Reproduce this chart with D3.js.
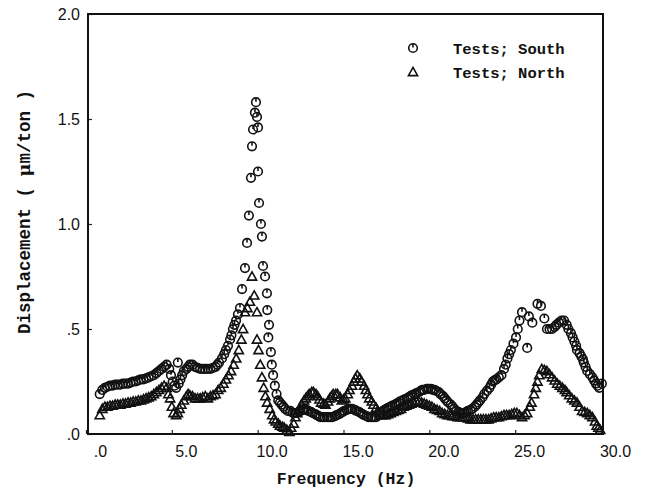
<!DOCTYPE html>
<html>
<head>
<meta charset="utf-8">
<script src="https://cdn.jsdelivr.net/npm/d3@7"></script>
<style>
  body { margin: 0; background: #fff; }
  .tick text { font-family: "Liberation Sans", Arial, sans-serif; font-size: 16px; fill: #111; }
  .title { font-family: "Liberation Mono", "Courier New", monospace; font-weight: bold; fill: #111; }
</style>
</head>
<body>
<div id="chart"></div>
<script>
// tick labels as printed on the figure
const xTicks = [0, 5, 10, 15, 20, 25, 30];
const xTickLabels = [".0", "5.0", "10.0", "15.0", "20.0", "25.0", "30.0"];
const yTicks = [0, 0.5, 1.0, 1.5, 2.0];
const yTickLabels = [".0", ".5", "1.0", "1.5", "2.0"];

// Tests; South (circles): [frequency Hz, displacement um/ton]
const southPoints = [
  [0.8,.19],[0.95,.21],[1.1,.22],[1.25,.225],[1.4,.23],[1.55,.23],[1.7,.235],[1.85,.235],[2.0,.235],[2.15,.24],[2.3,.24],[2.45,.24],
  [2.6,.245],[2.75,.25],[2.9,.25],[3.05,.255],[3.2,.26],[3.35,.26],[3.5,.265],[3.65,.27],[3.8,.275],[3.95,.28],[4.1,.29],[4.25,.30],
  [4.4,.31],[4.55,.32],[4.7,.33],[4.85,.31],[4.95,.28],[5.05,.25],[5.15,.23],[5.25,.22],[5.35,.34],[5.4,.24],[5.5,.26],[5.6,.28],
  [5.7,.30],[5.85,.31],[5.95,.32],[6.05,.33],[6.2,.33],[6.35,.32],[6.5,.315],[6.65,.31],[6.8,.31],[6.95,.31],[7.1,.31],[7.25,.31],
  [7.4,.315],[7.55,.32],[7.65,.33],[7.75,.34],[7.92,.36],[8.05,.38],[8.15,.40],[8.27,.42],[8.39,.45],[8.47,.47],[8.56,.50],[8.65,.52],
  [8.74,.54],[8.85,.57],[8.97,.60],[9.09,.69],
  [9.26,.79],[9.38,.91],[9.49,1.04],[9.61,1.22],[9.67,1.37],[9.73,1.45],[9.84,1.53],[9.9,1.58],[9.96,1.51],[10.02,1.46],[10.02,1.25],
  [10.08,1.10],[10.19,1.00],[10.25,.94],[10.31,.80],[10.43,.75],[10.54,.67],[10.56,.59],[10.66,.52],[10.62,.46],[10.77,.39],[10.82,.33],
  [10.9,.28],[11.0,.23],[11.1,.19],[11.2,.16],[11.3,.15],[11.4,.14],[11.5,.13],[11.6,.12],[11.75,.11],[11.9,.11],[12.05,.10],[12.15,.10],
  [12.25,.10],[12.4,.105],[12.5,.11],[12.65,.115],[12.75,.12],[12.85,.115],[12.95,.11],[13.1,.105],[13.2,.10],[13.35,.095],[13.45,.09],
  [13.55,.085],[13.65,.08],[13.8,.08],[13.9,.08],[14.05,.08],[14.15,.08],[14.25,.08],[14.35,.08],[14.5,.085],[14.6,.09],[14.75,.095],
  [14.85,.10],[14.95,.105],[15.05,.11],[15.2,.115],[15.3,.12],[15.4,.12],[15.5,.12],[15.65,.115],[15.75,.11],[15.9,.105],[16.0,.10],
  [16.1,.095],[16.2,.09],[16.35,.085],[16.45,.08],[16.6,.08],[16.7,.08],[16.8,.08],[16.9,.08],
  [17.05,.09],[17.15,.10],[17.3,.11],[17.4,.115],[17.5,.12],[17.6,.125],[17.75,.13],[17.85,.135],[18.0,.14],[18.1,.145],[18.2,.15],
  [18.3,.155],[18.45,.16],[18.55,.165],[18.7,.17],[18.8,.175],[18.9,.18],[19.0,.185],[19.15,.19],[19.25,.195],[19.4,.20],[19.5,.205],
  [19.6,.21],[19.7,.21],[19.85,.215],[19.95,.215],[20.1,.215],[20.2,.21],[20.3,.21],[20.4,.205],[20.55,.20],[20.65,.19],[20.8,.18],
  [20.9,.17],[21.0,.16],[21.1,.15],[21.25,.14],[21.35,.13],[21.45,.12],[21.55,.11],[21.7,.105],[21.8,.10],[21.95,.10],[22.05,.10],
  [22.15,.105],[22.25,.11],[22.4,.115],[22.5,.12],[22.65,.13],[22.75,.14],[22.85,.15],[22.95,.16],[23.1,.175],[23.2,.19],[23.35,.205],
  [23.5,.22],[23.6,.235],[23.7,.25],[23.8,.255],[23.9,.26],[24.05,.27],[24.2,.28],[24.35,.31],[24.45,.33],[24.55,.36],[24.65,.38],
  [24.75,.40],[24.9,.43],[25.05,.46],[25.15,.50],[25.25,.54],[25.4,.58],[25.7,.41],[25.8,.56],[26.0,.53],[26.3,.62],[26.5,.61],
  [26.7,.55],[26.85,.50],[27.0,.50],[27.15,.50],[27.3,.51],[27.4,.52],[27.55,.53],[27.7,.54],[27.85,.54],[28.0,.52],[28.1,.50],
  [28.25,.48],[28.35,.46],[28.45,.44],[28.55,.42],[28.6,.40],[28.75,.385],[28.85,.37],[28.95,.355],[29.0,.34],[29.1,.32],[29.2,.30],
  [29.35,.285],[29.5,.27],[29.6,.255],[29.7,.24],[29.8,.23],[29.9,.22],[30.05,.24]
];

// Tests; North (triangles)
const northPoints = [
  [0.8,.09],[0.95,.12],[1.1,.13],[1.25,.13],[1.4,.135],[1.55,.135],[1.7,.14],[1.85,.14],[2.0,.14],[2.15,.145],[2.3,.145],[2.45,.15],
  [2.6,.15],[2.75,.155],[2.9,.155],[3.05,.16],[3.2,.16],[3.35,.165],[3.5,.17],[3.65,.175],[3.8,.18],[3.95,.19],[4.1,.20],[4.25,.21],
  [4.4,.22],[4.55,.23],[4.7,.22],[4.8,.19],[4.9,.17],[5.0,.13],[5.1,.10],[5.25,.09],[5.35,.10],[5.45,.12],[5.55,.14],[5.7,.16],
  [5.85,.18],[5.95,.19],[6.05,.185],[6.2,.18],[6.35,.17],[6.5,.17],[6.65,.17],[6.8,.175],[6.95,.18],[7.1,.17],[7.25,.18],[7.4,.185],
  [7.55,.19],[7.7,.21],[7.85,.22],[8.0,.24],[8.15,.26],[8.3,.28],[8.45,.30],[8.6,.33],[8.75,.36],[8.9,.40],[9.05,.45],[9.15,.50],
  [9.26,.58],[9.4,.60],[9.55,.63],[9.67,.75],[9.8,.66],[9.96,.58],[9.96,.45],[10.05,.40],[10.15,.33],[10.25,.27],[10.35,.22],
  [10.45,.18],[10.55,.15],[10.7,.12],[10.85,.09],[10.95,.07],
  [11.05,.06],[11.2,.05],[11.3,.04],[11.45,.035],[11.55,.03],[11.7,.02],[11.85,.01],[11.95,.03],[12.1,.05],[12.2,.08],[12.3,.10],
  [12.45,.12],[12.55,.14],[12.7,.16],[12.8,.17],[12.9,.18],[13.0,.19],[13.15,.20],[13.25,.20],[13.4,.19],[13.5,.18],[13.6,.165],
  [13.7,.15],[13.85,.145],[13.95,.14],[14.1,.155],[14.2,.17],[14.3,.18],[14.4,.19],[14.55,.19],[14.65,.19],[14.8,.175],[14.9,.16],
  [15.0,.165],[15.1,.17],[15.25,.19],[15.35,.21],[15.5,.23],[15.6,.25],[15.7,.265],[15.8,.28],[15.95,.265],[16.05,.25],[16.2,.23],
  [16.3,.21],[16.4,.19],[16.5,.17],[16.65,.155],[16.75,.14],[16.9,.125],[17.0,.11],
  [17.15,.09],[17.3,.09],[17.45,.09],[17.6,.095],[17.75,.10],[17.9,.105],[18.05,.11],[18.2,.115],[18.35,.12],[18.5,.13],[18.65,.135],
  [18.8,.14],[18.95,.145],[19.1,.15],[19.25,.155],[19.4,.155],[19.55,.15],[19.7,.145],[19.85,.14],[20.0,.135],[20.15,.13],[20.3,.12],
  [20.45,.115],[20.6,.11],[20.75,.10],[20.9,.095],[21.05,.09],[21.2,.09],[21.35,.085],[21.5,.085],[21.65,.08],[21.8,.08],[21.95,.08],
  [22.1,.08],[22.25,.075],[22.4,.07],[22.55,.07],[22.7,.07],[22.85,.07],[23.0,.07],[23.15,.07],[23.3,.07],[23.45,.07],[23.6,.075],
  [23.75,.08],[23.9,.08],[24.05,.08],[24.2,.085],[24.35,.09],[24.5,.09],[24.65,.09],[24.8,.095],[24.95,.10],[25.1,.10],[25.25,.09],
  [25.4,.08],[25.55,.09],[25.7,.10],[25.85,.13],[25.95,.15],[26.1,.19],[26.2,.22],[26.3,.25],[26.4,.28],[26.55,.31],[26.7,.305],
  [26.85,.30],[27.0,.285],[27.15,.27],[27.3,.255],[27.45,.24],[27.6,.23],[27.75,.22],[27.9,.21],[28.0,.20],[28.15,.185],[28.3,.17],
  [28.45,.16],[28.6,.15],[28.75,.13],[28.9,.11],[29.05,.105],[29.2,.10],[29.35,.09],[29.5,.08],[29.65,.06],[29.75,.04],[29.85,.03],
  [29.95,.02]
];

const width = 645, height = 496;
const frame = {left: 88, right: 603, top: 14, bottom: 434};

const svg = d3.select("#chart")
  .append("svg")
    .attr("width", width)
    .attr("height", height);

const x = d3.scaleLinear().domain([0, 30]).range([86, 601]);
const y = d3.scaleLinear().domain([0, 2]).range([434, 14]);

// x axis: inward ticks, labels sit a bit right of the ticks like in the scan
const xAxis = svg.append("g")
  .attr("transform", `translate(0, ${frame.bottom})`)
  .call(d3.axisBottom(x).tickValues(xTicks)
    .tickFormat((d, i) => xTickLabels[i]).tickSize(-4).tickPadding(12));
xAxis.select(".domain").remove();
xAxis.selectAll(".tick line").attr("stroke", "#222").attr("stroke-width", 1.2);
xAxis.selectAll(".tick text").attr("dx", 14);

const yAxis = svg.append("g")
  .attr("transform", `translate(${frame.left}, 0)`)
  .call(d3.axisLeft(y).tickValues(yTicks)
    .tickFormat((d, i) => yTickLabels[i]).tickSize(-4).tickPadding(8));
yAxis.select(".domain").remove();
yAxis.selectAll(".tick line").attr("stroke", "#222").attr("stroke-width", 1.2);

// frame
svg.append("rect")
  .attr("x", frame.left)
  .attr("y", frame.top)
  .attr("width", frame.right - frame.left)
  .attr("height", frame.bottom - frame.top)
  .attr("fill", "none")
  .attr("stroke", "#111")
  .attr("stroke-width", 2);

// markers
const circleMark = function(sel) {
  sel.append("circle").attr("r", 4.3)
    .attr("fill", "none").attr("stroke", "#111").attr("stroke-width", 1.6);
  sel.append("line").attr("x1", 0).attr("x2", 0).attr("y1", -4).attr("y2", -0.5)
    .attr("stroke", "#111").attr("stroke-width", 1.6);
};
const triMark = function(sel) {
  sel.append("path").attr("d", "M0,-4.6L4.6,3.6L-4.6,3.6Z")
    .attr("fill", "none").attr("stroke", "#111").attr("stroke-width", 1.6);
};

svg.append("g").selectAll("g")
  .data(northPoints)
  .join("g")
    .attr("transform", d => `translate(${x(d[0])}, ${y(d[1])})`)
    .call(triMark);

svg.append("g").selectAll("g")
  .data(southPoints)
  .join("g")
    .attr("transform", d => `translate(${x(d[0])}, ${y(d[1])})`)
    .call(circleMark);

// legend
const legend = svg.append("g");
legend.append("g").attr("transform", "translate(413, 48)").call(circleMark);
legend.append("g").attr("transform", "translate(413, 72)").call(triMark);
legend.append("text").attr("class", "title").style("font-size", "15.5px")
  .attr("x", 453).attr("y", 54).text("Tests; South");
legend.append("text").attr("class", "title").style("font-size", "15.5px")
  .attr("x", 453).attr("y", 78).text("Tests; North");

// axis titles
svg.append("text")
  .attr("class", "title")
  .style("font-size", "16.5px")
  .attr("text-anchor", "middle")
  .attr("x", 346)
  .attr("y", 484)
  .text("Frequency (Hz)");

const yt = svg.append("text")
  .attr("class", "title")
  .style("font-size", "17.5px")
  .attr("text-anchor", "middle")
  .attr("transform", "translate(30, 212) rotate(-90)");
yt.append("tspan").text("Displacement ( ");
yt.append("tspan").style("font-family", "'DejaVu Serif', serif").text("μ");
yt.append("tspan").text("m/ton )");
</script>
</body>
</html>
